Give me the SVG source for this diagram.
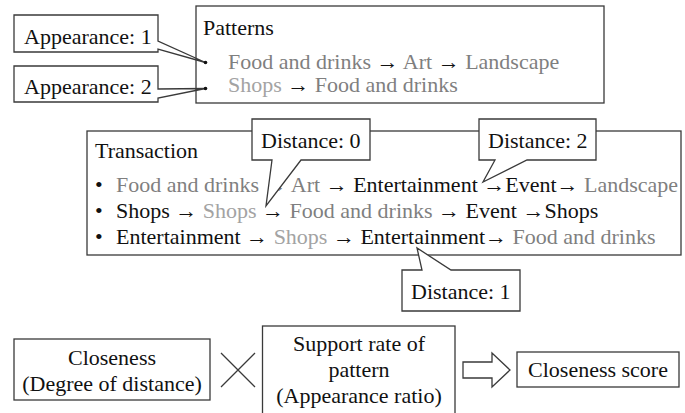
<svg xmlns="http://www.w3.org/2000/svg" width="685" height="413" viewBox="0 0 685 413">
<style>
.box{fill:#fff;stroke:#3a3a3a;stroke-width:1.3}
.open{fill:none;stroke:#3a3a3a;stroke-width:1.3}
.t{font-family:"Liberation Serif","Times New Roman",serif;font-size:22px;fill:#111}
.c{text-anchor:middle}
.g{fill:#7f7f7f}
.lg{fill:#a3a3a3}
.ln{stroke:#3a3a3a;stroke-width:1.3;fill:none}
</style>
<rect width="685" height="413" fill="#fff"/>

<g id="appearance1">
<path class="box" d="M14,15 H158 V41 L205.5,62.5 L158,49 V52 H14 Z"/>
<text class="t" x="24" y="44">Appearance: 1</text>
</g>
<g id="appearance2">
<path class="box" d="M14,66 H158 V89 L205.5,88.5 L158,98 V102 H14 Z"/>
<text class="t" x="24" y="94">Appearance: 2</text>
</g>

<g id="patterns">
<rect class="open" x="196" y="6" width="408" height="97"/>
<text class="t" x="203" y="35">Patterns</text>
<circle cx="205.5" cy="62.5" r="1.8" fill="#111"/>
<circle cx="205.5" cy="88.5" r="1.8" fill="#111"/>
<text class="t" x="228" y="69"><tspan class="g">Food and drinks</tspan> → <tspan class="g">Art</tspan> → <tspan class="g">Landscape</tspan></text>
<text class="t" x="228" y="92"><tspan class="lg">Shops</tspan> → <tspan class="g">Food and drinks</tspan></text>
</g>

<g id="transaction">
<rect class="box" x="87" y="131" width="594" height="124"/>
<text class="t" x="95" y="158">Transaction</text>
<text class="t" x="95" y="192">•</text>
<text class="t" x="95" y="218">•</text>
<text class="t" x="95" y="244">•</text>
<text class="t" x="116" y="192"><tspan class="g">Food and drinks → Art</tspan> → Entertainment →Event→ <tspan class="g">Landscape</tspan></text>
<text class="t" x="116" y="218">Shops → <tspan class="lg">Shops</tspan> → <tspan class="g">Food and drinks</tspan> → Event →Shops</text>
<text class="t" x="116" y="244">Entertainment → <tspan class="lg">Shops</tspan> → Entertainment→ <tspan class="g">Food and drinks</tspan></text>
</g>

<g id="distance0">
<path class="box" d="M252,119 H370 V160 H301 L266,206 L272,160 H252 Z"/>
<text class="t" x="261" y="148">Distance: 0</text>
</g>
<g id="distance2">
<path class="box" d="M479,119 H596 V160 H527 L483,182 L495,160 H479 Z"/>
<text class="t" x="488" y="148">Distance: 2</text>
</g>
<g id="distance1">
<path class="box" d="M402,270 H422 L417,248 L451,270 H520 V311 H402 Z"/>
<text class="t" x="411" y="299">Distance: 1</text>
</g>

<g id="closeness">
<rect class="box" x="14" y="339" width="196" height="61"/>
<text class="t c" x="112" y="365">Closeness</text>
<text class="t c" x="112" y="391">(Degree of distance)</text>
</g>
<g id="support">
<rect class="box" x="262.5" y="326" width="192.5" height="100"/>
<text class="t c" x="359" y="351">Support rate of</text>
<text class="t c" x="359" y="377">pattern</text>
<text class="t c" x="359" y="403">(Appearance ratio)</text>
</g>
<g id="score">
<rect class="box" x="517" y="352" width="162" height="35"/>
<text class="t c" x="598" y="377">Closeness score</text>
</g>

<g id="connectors">
<path class="ln" d="M221,353 L255,387 M255,353 L221,387"/>
<path class="box" d="M463,362 H492 V353 L510,370 L492,387 V378 H463 Z"/>
</g>
</svg>
